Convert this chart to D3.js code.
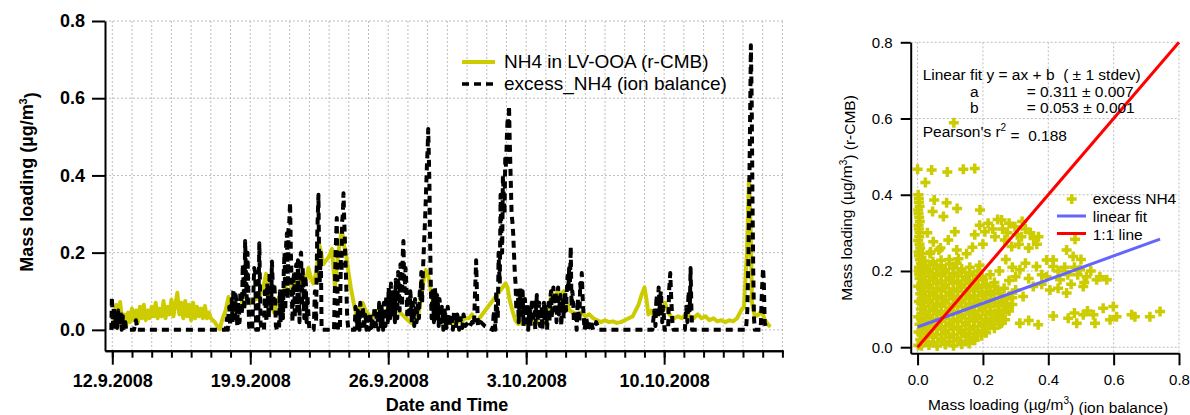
<!DOCTYPE html>
<html>
<head>
<meta charset="utf-8">
<script src="https://cdn.jsdelivr.net/npm/d3@7"></script>
<style>
  body { margin: 0; background: #fff; }
  svg { display: block; font-family: "Liberation Sans", Arial, sans-serif; }
  .grid line { stroke: #bdbdbd; stroke-width: 1; stroke-dasharray: 2,2; }
  text { white-space: pre; }
</style>
</head>
<body>
<svg id="chart" width="1190" height="415"></svg>
<script>
// time is in days after 12.9.2008 00:00
var startDay = Date.UTC(2008, 8, 12);

// NH4 in LV-OOA (r-CMB), [day, ug/m3]
var lvOOA = [
  [0.0,0.005],[0.1,0.03],[0.2,0.065],[0.3,0.02],[0.4,0.072],[0.5,0.015],[0.6,0.04],[0.7,0.01],[0.8,0.045],[0.9,0.02],
  [1.0,0.055],[1.1,0.025],[1.2,0.05],[1.3,0.02],[1.4,0.06],[1.5,0.03],[1.6,0.065],[1.7,0.025],[1.8,0.05],[1.9,0.03],
  [2.0,0.06],[2.1,0.035],[2.2,0.07],[2.3,0.03],[2.4,0.055],[2.5,0.035],[2.6,0.075],[2.7,0.03],[2.8,0.06],[2.9,0.04],
  [3.0,0.078],[3.1,0.035],[3.2,0.065],[3.3,0.096],[3.4,0.04],[3.5,0.07],[3.6,0.03],[3.7,0.075],[3.8,0.035],[3.9,0.065],
  [4.0,0.025],[4.1,0.07],[4.2,0.03],[4.3,0.06],[4.4,0.035],[4.5,0.055],[4.6,0.03],[4.7,0.062],[4.8,0.03],[4.9,0.045],
  [5.0,0.03],[5.1,0.025],[5.2,0.02],[5.3,0.012],[5.45,0.002],[5.6,0.03],[5.75,0.05],[5.9,0.085],[6.0,0.055],[6.1,0.07],
  [6.2,0.05],[6.35,0.065],[6.5,0.06],[6.6,0.075],[6.75,0.065],[6.9,0.08],[7.0,0.07],[7.15,0.075],[7.3,0.08],[7.45,0.09],
  [7.6,0.095],[7.7,0.12],[7.8,0.145],[7.9,0.11],[8.05,0.07],[8.2,0.045],[8.35,0.07],[8.5,0.09],[8.65,0.1],[8.8,0.11],
  [8.95,0.1],[9.1,0.11],[9.25,0.12],[9.4,0.13],[9.55,0.12],[9.7,0.135],[9.85,0.13],[9.95,0.16],[10.1,0.13],[10.2,0.12],
  [10.35,0.15],[10.5,0.22],[10.6,0.2],[10.7,0.17],[10.85,0.18],[11.0,0.19],[11.15,0.21],[11.25,0.14],[11.3,0.11],[11.4,0.17],
  [11.5,0.21],[11.65,0.26],[11.75,0.22],[11.85,0.2],[11.95,0.16],[12.1,0.11],[12.25,0.07],[12.4,0.035],[12.55,0.06],[12.7,0.07],
  [12.85,0.05],[13.0,0.04],[13.15,0.03],[13.3,0.045],[13.5,0.05],[13.7,0.04],[13.9,0.05],[14.05,0.045],[14.2,0.06],[14.35,0.06],
  [14.5,0.05],[14.7,0.04],[14.9,0.03],[15.1,0.02],[15.3,0.015],[15.5,0.03],[15.65,0.08],[15.8,0.13],[15.9,0.155],[16.05,0.135],
  [16.2,0.09],[16.35,0.06],[16.5,0.035],[16.7,0.02],[16.9,0.015],[17.1,0.02],[17.3,0.015],[17.5,0.025],[17.7,0.02],[17.9,0.03],
  [18.1,0.03],[18.25,0.04],[18.4,0.025],[18.55,0.025],[19.95,0.12],[20.05,0.11],[20.15,0.08],[20.3,0.05],[20.45,0.025],[20.6,0.015],
  [20.8,0.02],[21.0,0.015],[21.2,0.02],[21.4,0.015],[21.6,0.02],[21.8,0.018],[22.0,0.03],[22.15,0.06],[22.3,0.095],[22.45,0.08],
  [22.6,0.1],[22.75,0.09],[22.9,0.1],[23.05,0.07],[23.2,0.05],[23.4,0.045],[23.6,0.04],[23.8,0.045],[24.0,0.035],[24.2,0.04],
  [24.4,0.03],[24.6,0.025],[24.8,0.02],[25.0,0.025],[25.2,0.02],[25.4,0.022],[25.6,0.018],[25.8,0.02],[26.0,0.025],[26.2,0.03],
  [26.4,0.035],[26.55,0.05],[26.7,0.065],[26.85,0.09],[27.0,0.11],[27.1,0.08],[27.2,0.04],[27.35,0.05],[27.5,0.035],[27.65,0.045],
  [27.8,0.04],[27.95,0.055],[28.05,0.07],[28.2,0.045],[28.35,0.035],[28.5,0.03],[28.7,0.035],[28.9,0.03],[29.1,0.04],[29.3,0.035],
  [29.5,0.03],[29.7,0.04],[29.9,0.03],[30.1,0.035],[30.3,0.025],[30.5,0.03],[30.7,0.022],[30.9,0.025],[31.1,0.02],[31.3,0.025],
  [31.5,0.022],[31.7,0.03],[31.9,0.05],[32.05,0.06],[32.2,0.2],[32.3,0.39],[32.38,0.28],[32.46,0.07],[32.6,0.035],[32.8,0.04],
  [32.95,0.05],[33.1,0.026],[33.3,0.012],[33.4,0.008]
];

// excess_NH4 (ion balance), [day, ug/m3]
var excessNH4 = [
  [-0.05,0.0],[-0.02,0.085],[0.03,0.01],[0.08,0.06],[0.13,0.0],[0.18,0.04],[0.24,0.005],[0.3,0.05],[0.36,0.01],[0.42,0.045],
  [0.48,0.0],[0.54,0.035],[0.6,0.005],[0.66,0.02],[0.7,0.0],[1.1,0.0],[1.2,0.025],[1.28,0.0],[5.75,0.0],
  [5.82,0.03],[5.86,0.0],[5.9,0.05],[5.94,0.06],[5.98,0.01],[6.02,0.07],[6.06,0.08],[6.1,0.02],[6.14,0.1],[6.18,0.105],
  [6.22,0.03],[6.26,0.09],[6.3,0.07],[6.34,0.01],[6.38,0.07],[6.42,0.06],[6.46,0.02],[6.5,0.1],[6.54,0.08],[6.58,0.04],
  [6.62,0.17],[6.66,0.12],[6.7,0.05],[6.74,0.23],[6.78,0.15],[6.82,0.08],[6.86,0.2],[6.9,0.1],[6.94,0.01],[6.98,0.0],
  [7.1,0.0],[7.2,0.16],[7.25,0.15],[7.3,0.0],[7.4,0.0],[7.46,0.224],[7.52,0.02],[7.58,0.0],
  [7.7,0.0],[7.74,0.1],[7.78,0.06],[7.82,0.02],[7.86,0.12],[7.9,0.08],[7.94,0.03],[7.98,0.15],[8.02,0.1],[8.06,0.05],
  [8.1,0.177],[8.14,0.12],[8.18,0.06],[8.22,0.12],[8.26,0.08],[8.3,0.01],[8.36,0.0],[8.46,0.0],[8.5,0.1],[8.54,0.02],
  [8.58,0.02],[8.62,0.1],[8.66,0.03],[8.7,0.15],[8.74,0.2],[8.78,0.05],[8.82,0.22],[8.86,0.25],[8.9,0.08],[8.94,0.26],
  [8.98,0.28],[9.02,0.33],[9.06,0.2],[9.1,0.12],[9.14,0.02],[9.18,0.12],[9.22,0.15],[9.26,0.03],[9.3,0.16],[9.34,0.17],
  [9.38,0.05],[9.42,0.18],[9.46,0.1],[9.5,0.02],[9.54,0.19],[9.58,0.2],[9.62,0.06],[9.66,0.16],[9.7,0.1],[9.74,0.03],
  [9.78,0.14],[9.82,0.12],[9.86,0.02],[9.9,0.09],[9.94,0.05],[10.0,0.0],[10.22,0.0],
  [10.28,0.1],[10.31,0.06],[10.34,0.02],[10.37,0.15],[10.4,0.25],[10.43,0.3],[10.46,0.35],[10.49,0.2],[10.52,0.12],[10.55,0.16],
  [10.58,0.2],[10.62,0.0],[11.25,0.0],
  [11.33,0.2],[11.39,0.29],[11.45,0.0],[11.55,0.0],[11.6,0.2],[11.63,0.15],[11.66,0.28],[11.7,0.3],[11.73,0.354],[11.76,0.3],
  [11.79,0.25],[11.82,0.2],[11.85,0.15],[11.88,0.1],[11.92,0.03],[11.98,0.0],
  [12.3,0.0],[12.34,0.06],[12.38,0.03],[12.42,0.005],[12.46,0.05],[12.5,0.04],[12.54,0.0],[12.58,0.07],[12.62,0.05],[12.66,0.01],
  [12.7,0.06],[12.74,0.04],[12.78,0.0],[12.82,0.04],[12.86,0.03],[12.9,0.0],[12.94,0.03],[12.98,0.02],[13.02,0.0],[13.06,0.045],
  [13.1,0.03],[13.14,0.005],[13.18,0.03],[13.22,0.02],[13.26,0.0],[13.3,0.06],[13.34,0.04],[13.38,0.01],[13.42,0.05],[13.46,0.03],
  [13.5,0.0],[13.54,0.07],[13.58,0.05],[13.62,0.01],[13.66,0.06],[13.7,0.04],[13.74,0.0],[13.78,0.07],[13.82,0.05],[13.86,0.01],
  [13.9,0.09],[13.94,0.06],[13.98,0.02],[14.02,0.11],[14.06,0.08],[14.1,0.03],[14.14,0.12],[14.18,0.09],[14.22,0.04],[14.26,0.1],
  [14.3,0.07],[14.34,0.02],[14.38,0.13],[14.42,0.1],[14.46,0.03],[14.5,0.15],[14.54,0.11],[14.58,0.05],[14.62,0.17],[14.66,0.13],
  [14.7,0.06],[14.74,0.2],[14.77,0.23],[14.8,0.15],[14.84,0.1],[14.88,0.16],[14.92,0.12],[14.96,0.04],[15.0,0.09],[15.04,0.06],
  [15.08,0.03],[15.12,0.1],[15.16,0.07],[15.2,0.02],[15.24,0.07],[15.28,0.05],[15.32,0.01],[15.36,0.08],[15.4,0.06],[15.44,0.02],
  [15.48,0.07],[15.52,0.05],[15.56,0.03],[15.6,0.1],[15.64,0.08],[15.68,0.15],[15.72,0.07],[15.76,0.15],[15.8,0.2],[15.84,0.25],
  [15.88,0.3],[15.92,0.36],[15.96,0.42],[16.0,0.47],[16.03,0.52],[16.06,0.45],[16.09,0.38],[16.12,0.25],[16.16,0.12],[16.2,0.03],
  [16.24,0.1],[16.28,0.08],[16.32,0.02],[16.36,0.11],[16.4,0.09],[16.44,0.03],[16.48,0.09],[16.52,0.07],[16.56,0.01],[16.6,0.08],
  [16.64,0.06],[16.68,0.02],[16.72,0.06],[16.76,0.05],[16.8,0.0],[16.86,0.05],[16.9,0.03],[16.96,0.005],[17.02,0.06],[17.06,0.04],
  [17.12,0.01],[17.18,0.04],[17.22,0.03],[17.28,0.0],[17.34,0.05],[17.38,0.03],[17.44,0.01],[17.5,0.04],[17.54,0.03],[17.6,0.0],
  [17.66,0.03],[17.7,0.02],[17.76,0.005],[17.82,0.04],[17.86,0.03],[17.92,0.01],
  [18.05,0.02],[18.15,0.01],[18.25,0.02],[18.35,0.01],[18.42,0.12],[18.46,0.18],[18.5,0.1],[18.55,0.01],[18.7,0.02],[18.9,0.01],
  [19.1,0.005],[19.3,0.0],
  [19.36,0.05],[19.4,0.02],[19.44,0.0],[19.48,0.1],[19.52,0.06],[19.56,0.03],[19.6,0.2],[19.63,0.15],[19.66,0.12],[19.7,0.35],
  [19.74,0.25],[19.78,0.2],[19.82,0.4],[19.86,0.35],[19.9,0.3],[19.94,0.45],[19.98,0.42],[20.02,0.5],[20.06,0.55],[20.1,0.52],
  [20.13,0.58],[20.16,0.5],[20.2,0.42],[20.23,0.36],[20.26,0.3],[20.3,0.28],[20.34,0.25],[20.38,0.2],[20.42,0.15],[20.46,0.12],
  [20.5,0.05],[20.54,0.08],[20.58,0.1],[20.62,0.02],[20.66,0.07],[20.7,0.11],[20.74,0.04],[20.78,0.08],[20.82,0.1],[20.86,0.01],
  [20.9,0.06],[20.94,0.08],[20.98,0.02],[21.02,0.05],[21.06,0.07],[21.1,0.0],[21.14,0.04],[21.18,0.06],[21.22,0.01],[21.26,0.05],
  [21.3,0.08],[21.34,0.02],[21.38,0.06],[21.42,0.07],[21.46,0.0],[21.5,0.05],[21.54,0.09],[21.58,0.02],[21.62,0.05],[21.66,0.07],
  [21.7,0.01],[21.74,0.04],[21.78,0.06],[21.82,0.0],[21.86,0.05],[21.9,0.07],[21.94,0.02],[21.98,0.06],[22.02,0.04],[22.06,0.0],
  [22.1,0.05],[22.14,0.07],[22.18,0.02],[22.22,0.08],[22.26,0.1],[22.3,0.03],[22.34,0.08],[22.38,0.11],[22.42,0.05],[22.46,0.09],
  [22.5,0.1],[22.54,0.02],[22.58,0.08],[22.62,0.11],[22.66,0.04],[22.7,0.07],[22.74,0.09],[22.78,0.01],[22.82,0.06],[22.86,0.08],
  [22.9,0.03],[22.94,0.07],[22.98,0.1],[23.02,0.05],[23.06,0.1],[23.1,0.14],[23.14,0.1],[23.18,0.16],[23.22,0.12],[23.26,0.215],
  [23.3,0.06],[23.34,0.1],[23.38,0.08],[23.42,0.02],[23.5,0.05],[23.56,0.0],[23.62,0.08],[23.66,0.04],[23.7,0.02],[23.74,0.12],
  [23.78,0.1],[23.82,0.147],[23.86,0.09],[23.9,0.05],[23.96,0.0],[24.05,0.03],[24.15,0.0],[24.25,0.025],[24.4,0.0],[24.55,0.02],
  [24.7,0.0],[27.4,0.0],
  [27.5,0.05],[27.53,0.03],[27.56,0.01],[27.59,0.06],[27.62,0.09],[27.65,0.05],[27.68,0.03],[27.72,0.11],[27.75,0.08],[27.78,0.04],
  [27.81,0.09],[27.84,0.1],[27.87,0.05],[27.9,0.02],[27.93,0.05],[27.96,0.06],[28.02,0.0],
  [28.2,0.0],[28.25,0.1],[28.31,0.147],[28.36,0.08],[28.42,0.02],[28.48,0.0],[29.05,0.0],[29.12,0.06],[29.18,0.02],[29.24,0.1],
  [29.3,0.05],[29.34,0.16],[29.38,0.06],[29.42,0.0],[32.15,0.0],
  [32.22,0.05],[32.28,0.2],[32.34,0.45],[32.4,0.737],[32.44,0.6],[32.48,0.35],[32.52,0.15],[32.56,0.03],[32.6,0.0],[32.9,0.0],
  [32.96,0.1],[33.02,0.16],[33.06,0.12],[33.1,0.02],[33.18,0.0]
];

var dayTicks = d3.range(0, 35);            // a minor tick every day
var majorDays = [0, 7, 14, 21, 28];
var dateLabels = ["12.9.2008", "19.9.2008", "26.9.2008", "3.10.2008", "10.10.2008"];
var massTicks = [0, 0.2, 0.4, 0.6, 0.8];

// scatter: [excess NH4 (ion balance), NH4 in LV-OOA (r-CMB)]
var scatterPts = [
  [0.002,0.40],[0.004,0.38],[0.002,0.36],[0.005,0.34],[0.003,0.32],[0.006,0.30],[0.002,0.28],[0.008,0.26],[0.004,0.24],[0.01,0.22],
  [0.003,0.2],[0.006,0.18],[0.002,0.16],[0.008,0.14],[0.004,0.12],[0.01,0.1],[0.002,0.08],[0.006,0.06],[0.003,0.04],[0.008,0.02],[0.002,0.005],
  [0.004,0.39],[0.006,0.37],[0.003,0.35],[0.007,0.33],[0.004,0.31],[0.005,0.29],[0.006,0.27],[0.003,0.25],[0.007,0.23],[0.004,0.21],[0.005,0.19],
  [0.0,0.467],[0.043,0.465],[0.091,0.46],[0.14,0.467],[0.175,0.469],[0.024,0.432],[0.111,0.589],[0.051,0.386],[0.089,0.379],[0.046,0.356],
  [0.079,0.343],[0.121,0.364],[0.191,0.36],[0.114,0.303],[0.094,0.281],[0.048,0.277],[0.038,0.246],[0.07,0.26],[0.03,0.3],
  [0.175,0.295],[0.19,0.32],[0.206,0.303],[0.216,0.325],[0.23,0.31],[0.237,0.29],[0.245,0.335],[0.257,0.334],[0.26,0.31],[0.267,0.281],
  [0.275,0.3],[0.28,0.325],[0.288,0.264],[0.298,0.316],[0.305,0.295],[0.318,0.29],[0.32,0.33],[0.33,0.31],[0.34,0.26],[0.345,0.3],
  [0.355,0.285],[0.365,0.27],[0.37,0.29],[0.2,0.27],[0.31,0.27],[0.482,0.283],
  [0.313,0.203],[0.33,0.22],[0.364,0.212],[0.38,0.19],[0.395,0.229],[0.395,0.185],[0.415,0.212],[0.415,0.229],[0.43,0.2],[0.436,0.177],
  [0.45,0.21],[0.456,0.255],[0.46,0.19],[0.476,0.238],[0.48,0.21],[0.49,0.19],[0.497,0.203],[0.5,0.23],[0.51,0.17],[0.517,0.185],
  [0.53,0.2],[0.548,0.177],[0.558,0.185],[0.579,0.177],[0.507,0.159],[0.47,0.165],[0.456,0.142],[0.43,0.155],[0.405,0.15],[0.38,0.165],
  [0.354,0.159],[0.34,0.18],[0.323,0.133],[0.3,0.15],[0.272,0.115],[0.29,0.13],
  [0.252,0.08],[0.257,0.063],[0.313,0.063],[0.369,0.059],[0.415,0.082],[0.461,0.076],[0.487,0.063],[0.507,0.085],[0.538,0.085],[0.543,0.063],
  [0.568,0.102],[0.599,0.107],[0.589,0.072],[0.609,0.08],[0.655,0.085],[0.665,0.08],[0.711,0.08],[0.742,0.094],[0.52,0.095],[0.48,0.09],[0.34,0.07],
  [0.012,0.004],[0.035,0.006],[0.06,0.003],[0.085,0.007],[0.11,0.004],[0.135,0.008],[0.158,0.01],
  [0.024,0.015],[0.048,0.013],[0.073,0.016],[0.098,0.014],[0.123,0.017],[0.148,0.015],[0.175,0.018],
  [0.022,0.024],[0.047,0.027],[0.072,0.022],[0.097,0.026],[0.122,0.023],[0.147,0.028],[0.172,0.025],[0.196,0.03],
  [0.01,0.035],[0.034,0.037],[0.059,0.034],[0.084,0.036],[0.109,0.033],[0.134,0.037],[0.159,0.035],[0.184,0.036],[0.21,0.038],
  [0.012,0.046],[0.036,0.043],[0.06,0.047],[0.085,0.044],[0.11,0.048],[0.135,0.045],[0.16,0.046],[0.185,0.043],[0.21,0.048],[0.235,0.05],
  [0.024,0.055],[0.048,0.057],[0.073,0.054],[0.098,0.056],[0.123,0.053],[0.148,0.057],[0.173,0.055],[0.198,0.056],[0.223,0.058],[0.25,0.06],
  [0.022,0.066],[0.047,0.064],[0.072,0.068],[0.097,0.063],[0.122,0.067],[0.147,0.065],[0.172,0.069],[0.197,0.064],[0.222,0.066],[0.247,0.07],[0.268,0.072],
  [0.01,0.075],[0.034,0.077],[0.059,0.074],[0.084,0.076],[0.109,0.073],[0.134,0.077],[0.159,0.075],[0.184,0.076],[0.209,0.074],[0.234,0.077],[0.258,0.079],
  [0.012,0.086],[0.036,0.083],[0.06,0.087],[0.085,0.084],[0.11,0.088],[0.135,0.085],[0.16,0.087],[0.185,0.083],[0.21,0.086],[0.235,0.088],[0.26,0.09],[0.28,0.095],
  [0.024,0.095],[0.048,0.097],[0.073,0.094],[0.098,0.096],[0.123,0.093],[0.148,0.097],[0.173,0.095],[0.198,0.096],[0.223,0.094],[0.248,0.097],[0.272,0.1],
  [0.022,0.106],[0.047,0.104],[0.072,0.108],[0.097,0.103],[0.122,0.107],[0.147,0.105],[0.172,0.108],[0.197,0.104],[0.222,0.106],[0.247,0.108],[0.27,0.11],[0.29,0.112],
  [0.01,0.115],[0.034,0.117],[0.059,0.114],[0.084,0.116],[0.109,0.113],[0.134,0.117],[0.159,0.115],[0.184,0.116],[0.209,0.114],[0.234,0.117],[0.258,0.12],
  [0.012,0.126],[0.036,0.123],[0.06,0.127],[0.085,0.124],[0.11,0.128],[0.135,0.125],[0.16,0.127],[0.185,0.123],[0.21,0.126],[0.235,0.128],[0.258,0.13],[0.28,0.135],
  [0.024,0.135],[0.048,0.137],[0.073,0.134],[0.098,0.136],[0.123,0.133],[0.148,0.137],[0.173,0.135],[0.198,0.136],[0.223,0.138],[0.25,0.14],
  [0.022,0.146],[0.047,0.144],[0.072,0.148],[0.097,0.143],[0.122,0.147],[0.147,0.145],[0.172,0.148],[0.197,0.144],[0.222,0.146],[0.245,0.15],[0.265,0.155],
  [0.01,0.155],[0.034,0.157],[0.059,0.154],[0.084,0.156],[0.109,0.153],[0.134,0.157],[0.159,0.155],[0.184,0.156],[0.21,0.158],[0.235,0.16],
  [0.012,0.166],[0.036,0.163],[0.06,0.167],[0.085,0.164],[0.11,0.168],[0.135,0.165],[0.16,0.167],[0.185,0.163],[0.21,0.166],[0.235,0.17],
  [0.024,0.175],[0.048,0.177],[0.073,0.174],[0.098,0.176],[0.123,0.173],[0.148,0.177],[0.173,0.175],[0.2,0.178],
  [0.022,0.186],[0.047,0.184],[0.072,0.188],[0.097,0.183],[0.122,0.187],[0.147,0.185],[0.172,0.188],[0.197,0.184],[0.222,0.19],
  [0.01,0.195],[0.034,0.197],[0.059,0.194],[0.084,0.196],[0.109,0.193],[0.134,0.197],[0.159,0.195],[0.185,0.2],
  [0.012,0.206],[0.036,0.203],[0.06,0.207],[0.085,0.204],[0.11,0.208],[0.135,0.205],[0.16,0.21],[0.19,0.215],
  [0.024,0.215],[0.048,0.217],[0.073,0.214],[0.098,0.218],[0.12,0.22],
  [0.022,0.226],[0.047,0.224],[0.072,0.228],[0.097,0.23],[0.125,0.232],[0.015,0.246],[0.04,0.25],[0.065,0.255],
  [0.25,0.2],[0.27,0.23],[0.29,0.21],[0.3,0.185],[0.28,0.175],[0.12,0.255],[0.15,0.245],[0.168,0.262]
];
var fitA = 0.311, fitB = 0.053, fitXMax = 0.742;
var fitLines = [
  ["Linear fit y = ax + b  ( ± 1 stdev)", ""],
  ["a", "= 0.311 ± 0.007"],
  ["b", "= 0.053 ± 0.001"]
];
var pearsonR2 = "0.188";
var scatterTicks = [0, 0.2, 0.4, 0.6, 0.8];

var yellow = "#cccc00";
var svg = d3.select("#chart");
var toDate = function(t) { return new Date(startDay + t * 864e5); };

// ---------- left: time series ----------
var x = d3.scaleUtc().domain([toDate(-0.37), toDate(34.03)]).range([105, 783]);
var y = d3.scaleLinear().domain([-0.054, 0.8]).range([350.7, 21]);

var gridL = svg.append("g").attr("class", "grid");
gridL.selectAll(".v").data(dayTicks).enter().append("line")
  .attr("x1", d => x(toDate(d))).attr("x2", d => x(toDate(d)))
  .attr("y1", y(0.8)).attr("y2", y.range()[0]);
gridL.selectAll(".h").data(massTicks).enter().append("line")
  .attr("x1", x.range()[0]).attr("x2", x.range()[1])
  .attr("y1", d => y(d)).attr("y2", d => y(d));

var line = d3.line().x(d => x(toDate(d[0]))).y(d => y(d[1]));
svg.append("path").datum(lvOOA).attr("d", line)
  .attr("fill", "none").attr("stroke", yellow).attr("stroke-width", 4)
  .attr("stroke-linejoin", "round");
svg.append("path").datum(excessNH4).attr("d", line)
  .attr("fill", "none").attr("stroke", "#000").attr("stroke-width", 4)
  .attr("stroke-dasharray", "7,5").attr("stroke-linejoin", "round");

var minorAxis = svg.append("g").attr("transform", "translate(0," + y.range()[0] + ")")
  .call(d3.axisBottom(x).tickValues(dayTicks.map(toDate)).tickSize(7).tickSizeOuter(0).tickFormat(""));
var majorAxis = svg.append("g").attr("transform", "translate(0," + y.range()[0] + ")")
  .call(d3.axisBottom(x).tickValues(majorDays.map(toDate)).tickSize(14).tickSizeOuter(0).tickPadding(10)
    .tickFormat((d, i) => dateLabels[i]));
var leftAxis = svg.append("g").attr("transform", "translate(" + x.range()[0] + ",0)")
  .call(d3.axisLeft(y).tickValues(massTicks).tickSize(13).tickSizeOuter(0).tickPadding(7).tickFormat(d3.format(".1f")));
[minorAxis, majorAxis, leftAxis].forEach(function(g) {
  g.selectAll("path, line").attr("stroke", "#000").attr("stroke-width", 2);
  g.selectAll("text").attr("fill", "#000").style("font-size", "18px").style("font-weight", "bold")
    .style("font-family", "'Liberation Sans', Arial, sans-serif");
});

svg.append("text").attr("x", 447).attr("y", 411).attr("text-anchor", "middle")
  .style("font-size", "18px").style("font-weight", "bold").text("Date and Time");
var yl = svg.append("text").attr("transform", "translate(33,182) rotate(-90)")
  .attr("text-anchor", "middle").style("font-size", "18px").style("font-weight", "bold");
yl.append("tspan").text("Mass loading (µg/m");
yl.append("tspan").attr("dy", "-0.55em").style("font-size", "11px").text("3");
yl.append("tspan").attr("dy", "0.55em").text(")");

// legend
svg.append("line").attr("x1", 462).attr("x2", 495).attr("y1", 62).attr("y2", 62)
  .attr("stroke", yellow).attr("stroke-width", 4);
svg.append("line").attr("x1", 462).attr("x2", 497).attr("y1", 84).attr("y2", 84)
  .attr("stroke", "#000").attr("stroke-width", 3.5).attr("stroke-dasharray", "7,5");
svg.append("text").attr("x", 504).attr("y", 68).style("font-size", "19px").text("NH4 in LV-OOA (r-CMB)");
svg.append("text").attr("x", 504).attr("y", 90).style("font-size", "19px").text("excess_NH4 (ion balance)");

// ---------- right: scatter ----------
var sx = d3.scaleLinear().domain([-0.021, 0.8]).range([910.7, 1179]);
var sy = d3.scaleLinear().domain([-0.016, 0.8]).range([353.3, 42.3]);

var gridR = svg.append("g").attr("class", "grid");
gridR.selectAll(".v").data(scatterTicks).enter().append("line")
  .attr("x1", d => sx(d)).attr("x2", d => sx(d)).attr("y1", sy(0.8)).attr("y2", sy.range()[0]);
gridR.selectAll(".h").data(scatterTicks).enter().append("line")
  .attr("x1", sx.range()[0]).attr("x2", sx(0.8)).attr("y1", d => sy(d)).attr("y2", d => sy(d));

var plus = "M-5,0H5M0,-5V5";
svg.append("g").selectAll("path").data(scatterPts).enter().append("path")
  .attr("d", plus).attr("transform", d => "translate(" + sx(d[0]) + "," + sy(d[1]) + ")")
  .attr("stroke", yellow).attr("stroke-width", 3.5).attr("fill", "none");

svg.append("line").attr("x1", sx(0)).attr("y1", sy(fitB))
  .attr("x2", sx(fitXMax)).attr("y2", sy(fitA * fitXMax + fitB))
  .attr("stroke", "#6464ff").attr("stroke-width", 3);
svg.append("line").attr("x1", sx(0)).attr("y1", sy(0)).attr("x2", sx(0.8)).attr("y2", sy(0.8))
  .attr("stroke", "#ff0000").attr("stroke-width", 3);

var bAxis = svg.append("g").attr("transform", "translate(0," + sy.range()[0] + ")")
  .call(d3.axisBottom(sx).tickValues(scatterTicks).tickSize(12).tickSizeOuter(0).tickPadding(9).tickFormat(d3.format(".1f")));
var lAxis = svg.append("g").attr("transform", "translate(" + sx.range()[0] + ",0)")
  .call(d3.axisLeft(sy).tickValues(scatterTicks).tickSize(10).tickSizeOuter(0).tickPadding(8).tickFormat(d3.format(".1f")));
[bAxis, lAxis].forEach(function(g) {
  g.selectAll("path, line").attr("stroke", "#000").attr("stroke-width", 2);
  g.selectAll("text").attr("fill", "#000").style("font-size", "15px")
    .style("font-family", "'Liberation Sans', Arial, sans-serif");
});

var xl2 = svg.append("text").attr("x", 1048).attr("y", 409.5).attr("text-anchor", "middle").style("font-size", "15.5px");
xl2.append("tspan").text("Mass loading (µg/m");
xl2.append("tspan").attr("dy", "-0.55em").style("font-size", "10px").text("3");
xl2.append("tspan").attr("dy", "0.55em").text(") (ion balance)");
var yl2 = svg.append("text").attr("transform", "translate(852,198) rotate(-90)")
  .attr("text-anchor", "middle").style("font-size", "15.5px");
yl2.append("tspan").text("Mass loading (µg/m");
yl2.append("tspan").attr("dy", "-0.55em").style("font-size", "10px").text("3");
yl2.append("tspan").attr("dy", "0.55em").text(") (r-CMB)");

// fit annotation
var fitY = [80, 96.7, 113.3];
fitLines.forEach(function(l, i) {
  if (i === 0) {
    svg.append("text").attr("x", 922.7).attr("y", fitY[i]).style("font-size", "15.5px").text(l[0]);
  } else {
    svg.append("text").attr("x", 970).attr("y", fitY[i]).style("font-size", "15.5px").text(l[0]);
    svg.append("text").attr("x", 1026.7).attr("y", fitY[i]).style("font-size", "15.5px").text(l[1]);
  }
});
var pr = svg.append("text").attr("x", 922.7).attr("y", 137.3).style("font-size", "15.5px");
pr.append("tspan").text("Pearson's r");
pr.append("tspan").attr("dy", "-0.6em").style("font-size", "10px").text("2");
pr.append("tspan").attr("dy", "0.6em").text(" =  " + pearsonR2);

// scatter legend
svg.append("path").attr("d", plus).attr("transform", "translate(1071.7,199)")
  .attr("stroke", yellow).attr("stroke-width", 3.5).attr("fill", "none");
svg.append("line").attr("x1", 1057).attr("x2", 1086).attr("y1", 216).attr("y2", 216)
  .attr("stroke", "#6464ff").attr("stroke-width", 3);
svg.append("line").attr("x1", 1057).attr("x2", 1086).attr("y1", 233.5).attr("y2", 233.5)
  .attr("stroke", "#ff0000").attr("stroke-width", 3);
svg.append("text").attr("x", 1092.7).attr("y", 204).style("font-size", "15.5px").text("excess NH4");
svg.append("text").attr("x", 1092.7).attr("y", 222).style("font-size", "15.5px").text("linear fit");
svg.append("text").attr("x", 1092.7).attr("y", 240).style("font-size", "15.5px").text("1:1 line");
</script>
</body>
</html>
